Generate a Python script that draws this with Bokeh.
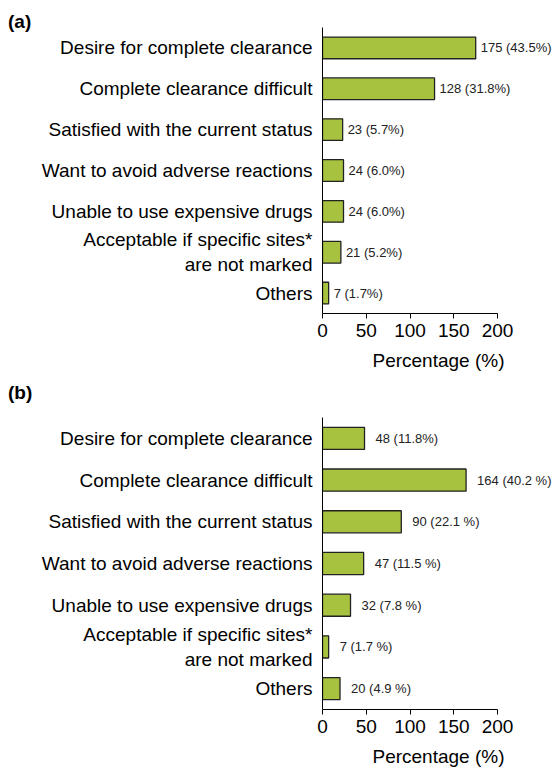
from bokeh.plotting import figure
from bokeh.models import ColumnDataSource, Range1d, FactorRange, FixedTicker, Div
from bokeh.layouts import column
from bokeh.embed import file_html
from bokeh.resources import INLINE
from bokeh.core.properties import value

categories = [
    "Desire for complete clearance",
    "Complete clearance difficult",
    "Satisfied with the current status",
    "Want to avoid adverse reactions",
    "Unable to use expensive drugs",
    "Acceptable if specific sites*\nare not marked",
    "Others",
]
counts_a = [175, 128, 23, 24, 24, 21, 7]
labels_a = ["175 (43.5%)", "128 (31.8%)", "23 (5.7%)", "24 (6.0%)", "24 (6.0%)", "21 (5.2%)", "7 (1.7%)"]
counts_b = [48, 164, 90, 47, 32, 7, 20]
labels_b = ["48 (11.8%)", "164 (40.2 %)", "90 (22.1 %)", "47 (11.5 %)", "32 (7.8 %)", "7 (1.7 %)", "20 (4.9 %)"]
x_ticks = [0, 50, 100, 150, 200]

FONT = "Liberation Sans"
BAR = "#a6c23f"


def make_panel(counts, labels, height, top, bottom, gap):
    src = ColumnDataSource(dict(cat=categories, val=counts, lab=labels))
    p = figure(
        width=554, height=height,
        y_range=FactorRange(factors=list(reversed(categories))),
        x_range=Range1d(0, 265),
        output_backend="svg", toolbar_location=None,
        min_border_left=322, min_border_right=0,
        min_border_top=top, min_border_bottom=bottom,
    )
    p.hbar(y="cat", right="val", left=0, height=0.53, source=src,
           fill_color=BAR, line_color="#222222", line_width=1.3)
    p.text(x="val", y="cat", text="lab", source=src, x_offset=gap,
           text_font=value(FONT), text_font_size="13px", text_color="#222222",
           text_baseline="middle", text_align="left")
    p.outline_line_color = None
    p.grid.visible = False
    p.background_fill_color = "white"
    p.border_fill_color = None

    xa = p.xaxis[0]
    xa.bounds = (0, 200)
    xa.ticker = FixedTicker(ticks=x_ticks)
    xa.minor_tick_line_color = None
    xa.major_tick_in = 0
    xa.major_tick_out = 5
    xa.axis_line_color = "black"
    xa.major_tick_line_color = "black"
    xa.major_label_text_font = FONT
    xa.major_label_text_font_size = "19px"
    xa.major_label_text_color = "black"
    xa.major_label_standoff = 5
    xa.axis_label = "Percentage (%)"
    xa.axis_label_text_font = FONT
    xa.axis_label_text_font_size = "19px"
    xa.axis_label_text_font_style = "normal"
    xa.axis_label_text_color = "black"
    xa.axis_label_standoff = 10

    ya = p.yaxis[0]
    ya.major_tick_in = 0
    ya.major_tick_out = 0
    ya.minor_tick_line_color = None
    ya.axis_line_color = "black"
    ya.major_label_text_font = FONT
    ya.major_label_text_font_size = "19px"
    ya.major_label_text_color = "black"
    ya.major_label_standoff = 10
    return p


def letter_div(letter, height, pad_top):
    return Div(text=letter, width=554, height=height, margin=0,
               styles={"font-family": FONT, "font-size": "19px", "font-weight": "bold",
                       "line-height": "25px", "padding-left": "8px", "padding-top": pad_top,
                       "box-sizing": "border-box", "overflow": "visible", "color": "black"})


div_a = letter_div("(a)", 27, "9px")
pa = make_panel(counts_a, labels_a, 353, 0, 67, 5)

div_b = letter_div("(b)", 25, "0px")
pb = make_panel(counts_b, labels_b, 364, 12, 60, 11)

layout = column(div_a, pa, div_b, pb, spacing=0)
open("out.html", "w").write(file_html(layout, INLINE))
